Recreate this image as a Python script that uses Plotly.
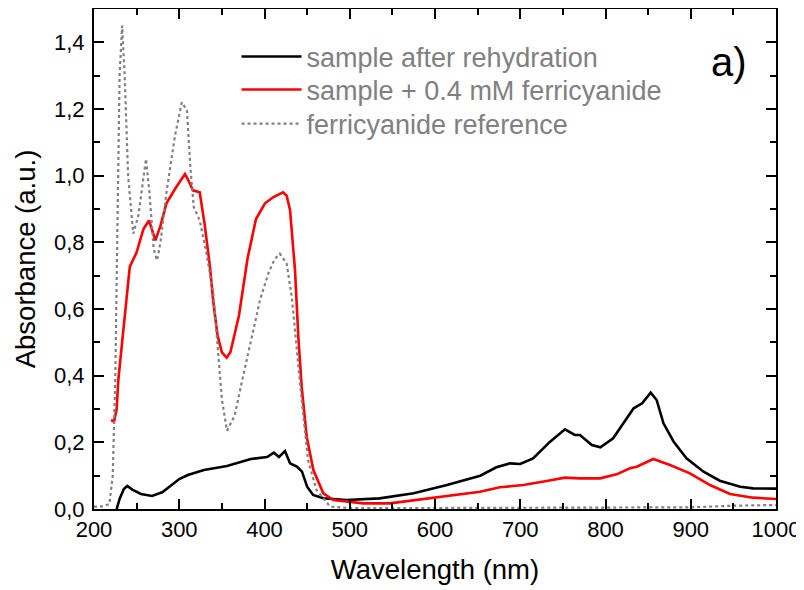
import plotly.graph_objects as go

# ferricyanide reference (gray dotted)
ref_x = [200, 210, 218, 222, 225, 228, 230, 233, 236, 240, 246, 252, 257, 261, 265, 270, 274, 278,
         285, 295, 303, 309, 313, 317, 324, 332, 340, 345, 350, 356, 365, 375, 385, 395, 405, 412,
         418, 426, 432, 438, 444, 451, 461, 477, 500, 600, 700, 800, 900, 950, 1000]
ref_y = [0.007, 0.008, 0.015, 0.10, 0.40, 0.90, 1.30, 1.45, 1.30, 1.00, 0.826, 0.88, 0.98, 1.05, 0.95,
         0.78, 0.746, 0.80, 0.95, 1.12, 1.22, 1.196, 1.026, 0.906, 0.866, 0.766, 0.646, 0.48, 0.33,
         0.235, 0.28, 0.40, 0.52, 0.63, 0.71, 0.75, 0.766, 0.736, 0.636, 0.467, 0.317, 0.147, 0.057,
         0.007, 0.003, 0.003, 0.003, 0.004, 0.005, 0.010, 0.012]

# sample + 0.4 mM ferricyanide (red)
red_x = [220, 223.5, 226.6, 228.5, 231, 234.4, 238, 242, 250, 258, 264.5, 268, 272, 278, 285, 295,
         300, 306.7, 310, 316, 324, 330, 336, 340, 345, 350, 355.6, 360, 370, 380, 390, 400.6, 410,
         421.7, 426, 430, 435.8, 439.7, 443.6, 449.5, 457.3, 469, 480.7, 516, 547, 594, 652.8, 676,
         703.6, 731, 752.5, 770, 793.6, 813, 828.7, 836.6, 856, 875.7, 899, 922.6, 946, 973, 1000]
red_y = [0.267, 0.262, 0.30, 0.387, 0.45, 0.537, 0.627, 0.727, 0.77, 0.84, 0.866, 0.84, 0.806, 0.85,
         0.917, 0.96, 0.98, 1.005, 0.99, 0.956, 0.95, 0.85, 0.727, 0.62, 0.52, 0.47, 0.454, 0.47,
         0.58, 0.75, 0.87, 0.917, 0.935, 0.95, 0.94, 0.896, 0.716, 0.516, 0.367, 0.217, 0.117, 0.047,
         0.027, 0.017, 0.017, 0.033, 0.052, 0.065, 0.072, 0.084, 0.094, 0.092, 0.092, 0.104, 0.122,
         0.127, 0.15, 0.132, 0.107, 0.072, 0.045, 0.034, 0.03]

# sample after rehydration (black)
blk_x = [226.6, 230, 235, 239, 245, 255, 268, 280, 290, 300, 310, 329, 356, 384, 403, 411, 417, 424,
         430, 438, 444, 450, 457, 469, 496, 535, 575, 614, 653, 672, 688, 700, 715, 735, 752.5, 764,
         770, 784, 794, 809, 821, 833, 843, 853, 860, 868, 880, 895, 915, 934, 958, 973, 1000]
blk_y = [0.0, 0.03, 0.06, 0.069, 0.058, 0.045, 0.039, 0.05, 0.07, 0.09, 0.102, 0.117, 0.129, 0.15,
         0.156, 0.169, 0.156, 0.174, 0.137, 0.127, 0.112, 0.067, 0.042, 0.032, 0.027, 0.032, 0.047,
         0.072, 0.10, 0.125, 0.137, 0.135, 0.152, 0.202, 0.239, 0.222, 0.222, 0.192, 0.185, 0.212,
         0.257, 0.302, 0.317, 0.349, 0.327, 0.257, 0.202, 0.152, 0.112, 0.085, 0.067, 0.062, 0.061]

series_names = ["sample after rehydration", "sample + 0.4 mM ferricyanide", "ferricyanide reference"]
y_tickvals = [0.0, 0.2, 0.4, 0.6, 0.8, 1.0, 1.2, 1.4]
y_ticktext = ["0,0", "0,2", "0,4", "0,6", "0,8", "1,0", "1,2", "1,4"]
x_tickvals = [200, 300, 400, 500, 600, 700, 800, 900, 1000]

FONT = "Liberation Sans, Arial, sans-serif"

fig = go.Figure()
fig.add_trace(go.Scatter(x=blk_x, y=blk_y, mode="lines", name=series_names[0], legend="legend",
                         line=dict(color="black", width=2.6)))
fig.add_trace(go.Scatter(x=red_x, y=red_y, mode="lines", name=series_names[1], legend="legend2",
                         line=dict(color="#ff0000", width=2.6)))
fig.add_trace(go.Scatter(x=ref_x, y=ref_y, mode="lines", name=series_names[2], legend="legend3",
                         line=dict(color="#808080", width=2.2, dash="dot")))

axis_common = dict(showline=True, linecolor="black", linewidth=2, mirror="allticks",
                   ticks="inside", ticklen=10, tickwidth=2, tickcolor="black",
                   showgrid=False, zeroline=False, automargin=False,
                   tickfont=dict(family=FONT, size=22, color="black"))

fig.update_xaxes(range=[200, 1000], tickvals=x_tickvals,
                 title=dict(text="Wavelength (nm)", font=dict(family=FONT, size=27.5, color="black"),
                            standoff=18),
                 minor=dict(ticks="inside", ticklen=6, tickwidth=1.5, tickcolor="black", dtick=50),
                 **axis_common)
fig.update_yaxes(range=[0, 1.5], tickvals=y_tickvals, ticktext=y_ticktext,
                 ticklabelstandoff=3,
                 title=dict(text="Absorbance (a.u.)", font=dict(family=FONT, size=27.5, color="black"),
                            standoff=10),
                 minor=dict(ticks="inside", ticklen=6, tickwidth=1.5, tickcolor="black", dtick=0.1),
                 **axis_common)

def legend_box(ypos):
    return dict(x=0.209, y=ypos, xanchor="left", yanchor="middle",
                bgcolor="rgba(0,0,0,0)", borderwidth=0,
                font=dict(family=FONT, size=27, color="#808080"),
                itemwidth=60, tracegroupgap=0)

# page body adds an 8px offset; sizes compensate so the plot box sits at x 94-776, y 9-509
fig.update_layout(
    width=796, height=582,
    margin=dict(l=86, r=28, t=1, b=81),
    plot_bgcolor="white", paper_bgcolor="white",
    showlegend=True,
    legend=legend_box(0.904),
    legend2=legend_box(0.838),
    legend3=legend_box(0.770),
    annotations=[dict(text="a)", x=0.96, y=0.894, xref="paper", yref="paper",
                      xanchor="right", yanchor="middle", showarrow=False,
                      font=dict(family=FONT, size=40, color="black"))],
)

fig.write_html("out.html")
